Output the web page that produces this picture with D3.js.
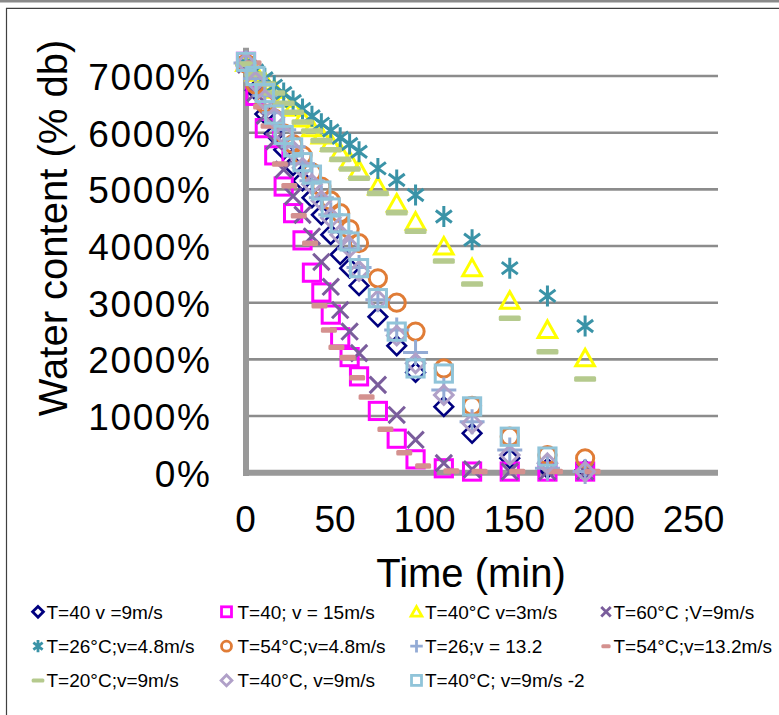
<!DOCTYPE html>
<html><head><meta charset="utf-8">
<script src="https://cdn.jsdelivr.net/npm/d3@7"></script>
<style>body{margin:0;background:#fff} svg{display:block}</style>
</head><body><svg id="c" width="779" height="715"></svg>
<script>
// ---------- DATA ----------
const times = [0,5,10,15,20,25,30,35,40,45,50,55,60,70,80,90,105,120,140,160,180];
const salmonTimes = [4,8,12,18,23,28,34,39,44,48,54,59,64,74,84,94,109,124,144,164,184];
const xTicks = [0,50,100,150,200,250];
const yTicks = [0,1000,2000,3000,4000,5000,6000,7000];

const sNavy     = [7220,6750,6330,5980,5700,5420,5150,4850,4550,4200,3850,3610,3300,2750,2240,1770,1165,695,254,78,48];
const sMagenta  = [7250,6650,6080,5600,5050,4580,4100,3530,3180,2790,2390,2040,1700,1090,600,236,78,20,20,20,20];
const sYellow   = [7230,7060,6900,6760,6600,6440,6250,6080,5950,5820,5650,5500,5340,5050,4750,4430,3990,3610,3035,2520,2020];
const sPurpleX  = [7200,6700,6300,5850,5350,4880,4550,4170,3720,3280,2870,2490,2110,1550,1020,580,170,60,20,20,20];
const sTeal     = [7230,7100,6960,6830,6700,6560,6420,6290,6160,6040,5910,5800,5665,5370,5165,4900,4520,4110,3610,3120,2590];
const sOrange   = [7220,6850,6520,6250,5990,5800,5600,5300,5050,4800,4580,4300,4050,3430,3000,2490,1840,1180,635,312,254];
const sPlus     = [7230,6950,6650,6350,6050,5750,5450,5150,4850,4550,4250,3950,3620,3050,2520,2120,1460,900,400,78,20];
const sSalmon   = [7230,6460,6118,5448,5065,4535,4048,2947,2518,2213,2030,1676,1336,766,353,118,30,20,20,20,20];
const sGreen    = [7210,7030,6860,6700,6520,6360,6190,6030,5860,5700,5530,5360,5195,4930,4590,4260,3735,3330,2725,2135,1653];
const sLavender = [7230,6900,6580,6270,5970,5680,5380,5090,4800,4500,4200,3980,3560,3047,2420,1930,1371,872,312,166,18];
const sLightBlue= [7250,7000,6700,6320,5960,5740,5480,5260,4980,4680,4400,4080,3610,3080,2490,1840,1750,1170,635,285];

const seriesNames = ["T=40 v =9m/s","T=40; v = 15m/s","T=40°C v=3m/s","T=60°C ;V=9m/s",
  "T=26°C;v=4.8m/s","T=54°C;v=4.8m/s","T=26;v = 13.2","T=54°C;v=13.2m/s",
  "T=20°C;v=9m/s","T=40°C, v=9m/s","T=40°C; v=9m/s -2"];

// ---------- STYLE ----------
const series = [
  {name:seriesNames[0], t:times, v:sNavy, m:"diamond", c:"#00007f", sw:2.6},
  {name:seriesNames[1], t:times, v:sMagenta, m:"square", c:"#ff00ff", sw:3},
  {name:seriesNames[2], t:times, v:sYellow, m:"triangle", c:"#ffff00", sw:3},
  {name:seriesNames[3], t:times, v:sPurpleX, m:"x", c:"#7a5d9c", sw:3},
  {name:seriesNames[4], t:times, v:sTeal, m:"star", c:"#3a93a7", sw:3},
  {name:seriesNames[5], t:times, v:sOrange, m:"circle", c:"#e07c36", sw:3},
  {name:seriesNames[6], t:times, v:sPlus, m:"plus", c:"#93abd5", sw:3},
  {name:seriesNames[7], t:salmonTimes, v:sSalmon, m:"dashS", c:"#d4918f", sw:0},
  {name:seriesNames[8], t:times, v:sGreen, m:"dashL", c:"#b5ca8d", sw:0},
  {name:seriesNames[9], t:times, v:sLavender, m:"diamond", c:"#b0a0c8", sw:3},
  {name:seriesNames[10], t:times, v:sLightBlue, m:"square", c:"#90c4d9", sw:3}
];

const FONT = "'Liberation Sans', Arial, sans-serif";
const svg = d3.select("#c");

// page fragments
svg.append("rect").attr("x",0).attr("y",0).attr("width",779).attr("height",2.5).attr("fill","#8a8a8a");
svg.append("line").attr("x1",6.5).attr("x2",6.5).attr("y1",8).attr("y2",715).attr("stroke","#404040").attr("stroke-width",1.2);
svg.append("line").attr("x1",6).attr("x2",779).attr("y1",8.3).attr("y2",8.3).attr("stroke","#404040").attr("stroke-width",1.2);

// scales
const x = d3.scaleLinear().domain([0,250]).range([246,717]);
const xLab = d3.scaleLinear().domain([0,250]).range([245,693]);
const y = d3.scaleLinear().domain([0,7500]).range([472.7,47.7]);

// gridlines
svg.append("g").selectAll("line").data(yTicks.filter(d=>d>0)).join("line")
  .attr("x1",249).attr("x2",718).attr("y1",d=>y(d)).attr("y2",d=>y(d))
  .attr("stroke","#8c8c8c").attr("stroke-width",2.6);

// axis lines
svg.append("line").attr("x1",246).attr("x2",246).attr("y1",y(7500)).attr("y2",476)
  .attr("stroke","#999").attr("stroke-width",6);
svg.append("line").attr("x1",243).attr("x2",718).attr("y1",y(0)).attr("y2",y(0))
  .attr("stroke","#999").attr("stroke-width",6);

// y tick labels
const gy = svg.append("g").attr("transform","translate(213.5,0)")
  .call(d3.axisLeft(y).tickValues(yTicks).tickSize(0).tickPadding(2).tickFormat(d=>d+"%"));
gy.select(".domain").remove();
gy.selectAll("text").attr("font-family",FONT).attr("font-size",37).attr("fill","#000")
  .attr("dy","0.36em").attr("letter-spacing","1.6px");

// x tick labels
const gx = svg.append("g").attr("transform",`translate(0,${y(0)})`)
  .call(d3.axisBottom(xLab).tickValues(xTicks).tickSize(0).tickPadding(33).tickFormat(d3.format("d")));
gx.select(".domain").remove();
gx.selectAll("text").attr("font-family",FONT).attr("font-size",37).attr("fill","#000");

// titles
svg.append("text").attr("x",471).attr("y",586.5).attr("text-anchor","middle")
  .attr("font-family",FONT).attr("font-size",40).text("Time (min)");
svg.append("text").attr("transform","translate(66.5,228) rotate(-90)").attr("text-anchor","middle")
  .attr("font-family",FONT).attr("font-size",40).text("Water content (% db)");

// marker drawing
function drawMarker(g, type, color, sw, k) {
  const fill = "none";
  if (type==="diamond") {
    const s=9.3*k;
    g.append("path").attr("d",`M0,${-s}L${s},0L0,${s}L${-s},0Z`).attr("fill",fill).attr("stroke",color).attr("stroke-width",sw);
  } else if (type==="square") {
    const h=8.6*k;
    g.append("rect").attr("x",-h).attr("y",-h).attr("width",2*h).attr("height",2*h).attr("fill",fill).attr("stroke",color).attr("stroke-width",sw);
  } else if (type==="triangle") {
    const w=9.3*k, t=9*k, b=7.5*k;
    g.append("path").attr("d",`M0,${-t}L${w},${b}L${-w},${b}Z`).attr("fill",fill).attr("stroke",color).attr("stroke-width",sw).attr("stroke-linejoin","miter");
  } else if (type==="x") {
    const s=8.2*k;
    g.append("path").attr("d",`M${-s},${-s}L${s},${s}M${-s},${s}L${s},${-s}`).attr("stroke",color).attr("stroke-width",sw);
  } else if (type==="star") {
    const s=8*k, v=10.5*k;
    g.append("path").attr("d",`M${-s},${-s*0.75}L${s},${s*0.75}M${-s},${s*0.75}L${s},${-s*0.75}M0,${-v}L0,${v}`).attr("stroke",color).attr("stroke-width",sw);
  } else if (type==="circle") {
    g.append("circle").attr("r",8.6*k).attr("fill",fill).attr("stroke",color).attr("stroke-width",sw);
  } else if (type==="plus") {
    const s=12.5*k;
    g.append("path").attr("d",`M${-s},0L${s},0M0,${-s}L0,${s}`).attr("stroke",color).attr("stroke-width",sw);
  } else if (type==="dashS") {
    const w=16*k, h=Math.max(5.6*k,4);
    g.append("rect").attr("x",-w/2).attr("y",-h/2).attr("width",w).attr("height",h).attr("rx",1.5).attr("fill",color);
  } else if (type==="dashL") {
    const w=22*k, h=Math.max(5.6*k,4);
    g.append("rect").attr("x",-w/2).attr("y",-h/2).attr("width",w).attr("height",h).attr("rx",1.5).attr("fill",color);
  }
}

// points
const plot = svg.append("g");
series.forEach(s => {
  const gs = plot.append("g");
  s.v.forEach((val,i) => {
    const g = gs.append("g").attr("transform",`translate(${x(s.t[i])},${y(val)})`);
    drawMarker(g, s.m, s.c, s.sw, 1);
  });
});

// legend
const legCols = [38, 226.5, 416.5, 606];
const legText = [46.5, 237.5, 425, 613.5];
const legRows = [611.8, 646.2, 680.4];
series.forEach((s,i) => {
  const r = Math.floor(i/4), c = i%4;
  const g = svg.append("g").attr("transform",`translate(${legCols[c]},${legRows[r]})`);
  drawMarker(g, s.m, s.c, s.m.startsWith("dash")?0:2.8, s.m==="plus"?0.5:0.58);
  svg.append("text").attr("x",legText[c]).attr("y",legRows[r]+6.7)
    .attr("font-family",FONT).attr("font-size",19).attr("fill","#000").text(s.name);
});
</script></body></html>
